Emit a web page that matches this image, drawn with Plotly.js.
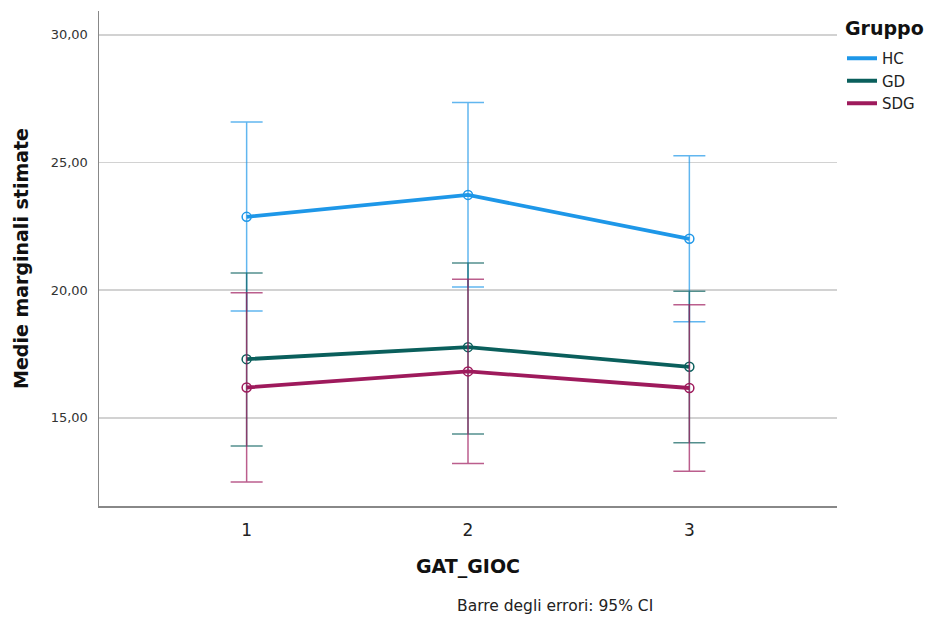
<!DOCTYPE html>
<html>
<head>
<meta charset="utf-8">
<script src="https://cdn.plot.ly/plotly-3.0.1.min.js"></script>
<style>html,body{margin:0;padding:0;background:#fff;}#chart{width:925px;height:617px;}</style>
</head>
<body>
<div id="chart"></div>
<script>
const categories = [1, 2, 3];
const groups = ["HC", "GD", "SDG"];
const hcMean = [22.87, 23.73, 22.01];
const hcLower = [19.18, 20.12, 18.76];
const hcUpper = [26.58, 27.35, 25.26];
const gdMean = [17.30, 17.77, 17.00];
const gdLower = [13.90, 14.37, 14.03];
const gdUpper = [20.67, 21.06, 19.96];
const sdgMean = [16.19, 16.82, 16.17];
const sdgLower = [12.49, 13.21, 12.91];
const sdgUpper = [19.90, 20.43, 19.43];
const yTicks = [15, 20, 25, 30];
const yTickLabels = ["15,00", "20,00", "25,00", "30,00"];

const colors = ["#1e97e8", "#0a5f5c", "#9e1a5c"];
const errColors = ["rgba(30,151,232,0.7)", "rgba(10,95,92,0.7)", "rgba(158,26,92,0.7)"];
const means = [hcMean, gdMean, sdgMean];
const lowers = [hcLower, gdLower, sdgLower];
const uppers = [hcUpper, gdUpper, sdgUpper];

const traces = groups.map((g, i) => ({
  type: "scatter",
  mode: "lines+markers",
  name: g,
  legendgroup: g,
  showlegend: false,
  x: categories,
  y: means[i],
  line: {color: colors[i], width: 3.8},
  marker: {symbol: "circle-open", size: 9, color: colors[i], line: {width: 1.5, color: colors[i]}},
  error_y: {
    type: "data",
    symmetric: false,
    array: uppers[i].map((u, k) => u - means[i][k]),
    arrayminus: means[i].map((m, k) => m - lowers[i][k]),
    color: errColors[i],
    thickness: 1.5,
    width: 16
  }
}));

const legendTraces = groups.map((g, i) => ({
  type: "scatter",
  mode: "lines",
  name: g,
  legendgroup: g,
  x: [null], y: [null],
  line: {color: colors[i], width: 4}
}));

const layout = {
  width: 925, height: 617,
  margin: {l: 99, r: 88, t: 11, b: 111},
  paper_bgcolor: "#fff", plot_bgcolor: "#fff",
  font: {family: "DejaVu Sans, sans-serif", color: "#222"},
  showlegend: true,
  legend: {
    xref: "container", yref: "container",
    x: 842 / 925, xanchor: "left", y: 1 - 42 / 617, yanchor: "top",
    font: {size: 15, color: "#222"},
    tracegroupgap: 0, itemwidth: 30, borderwidth: 0,
    bgcolor: "rgba(0,0,0,0)"
  },
  xaxis: {
    range: [0.333, 3.667],
    tickvals: categories,
    ticktext: categories.map(String),
    tickfont: {size: 17, color: "#222"},
    ticks: "", showgrid: false, zeroline: false,
    showline: true, linecolor: "#888", linewidth: 1.5,
    ticklabelstandoff: 8,
    title: {text: "GAT_GIOC", font: {size: 19, weight: "bold", color: "#111"}, standoff: 21}
  },
  yaxis: {
    range: [11.55, 30.93],
    tickvals: yTicks,
    ticktext: yTickLabels,
    tickfont: {size: 13, color: "#333"},
    ticks: "", showgrid: true, gridcolor: "#d2d2d2", gridwidth: 1.5,
    zeroline: false, showline: true, linecolor: "#888", linewidth: 1.5,
    ticklabelstandoff: 7,
    title: {text: "Medie marginali stimate", font: {size: 19, weight: "bold", color: "#111"}, standoff: 17}
  },
  annotations: [{
    text: "Gruppo",
    xref: "paper", yref: "paper",
    x: (843 - 99) / 737.7, y: (505.7 - 28) / 494.7, xanchor: "left", yanchor: "middle",
    showarrow: false, font: {size: 19, weight: "bold", color: "#111"}
  }, {
    text: "Barre degli errori: 95% CI",
    xref: "paper", yref: "paper",
    x: 0.618, y: -0.203, xanchor: "center", yanchor: "middle",
    showarrow: false, font: {size: 15.5, color: "#222"}
  }]
};

Plotly.newPlot("chart", traces.concat(legendTraces), layout, {displayModeBar: false, staticPlot: true});
</script>
</body>
</html>
